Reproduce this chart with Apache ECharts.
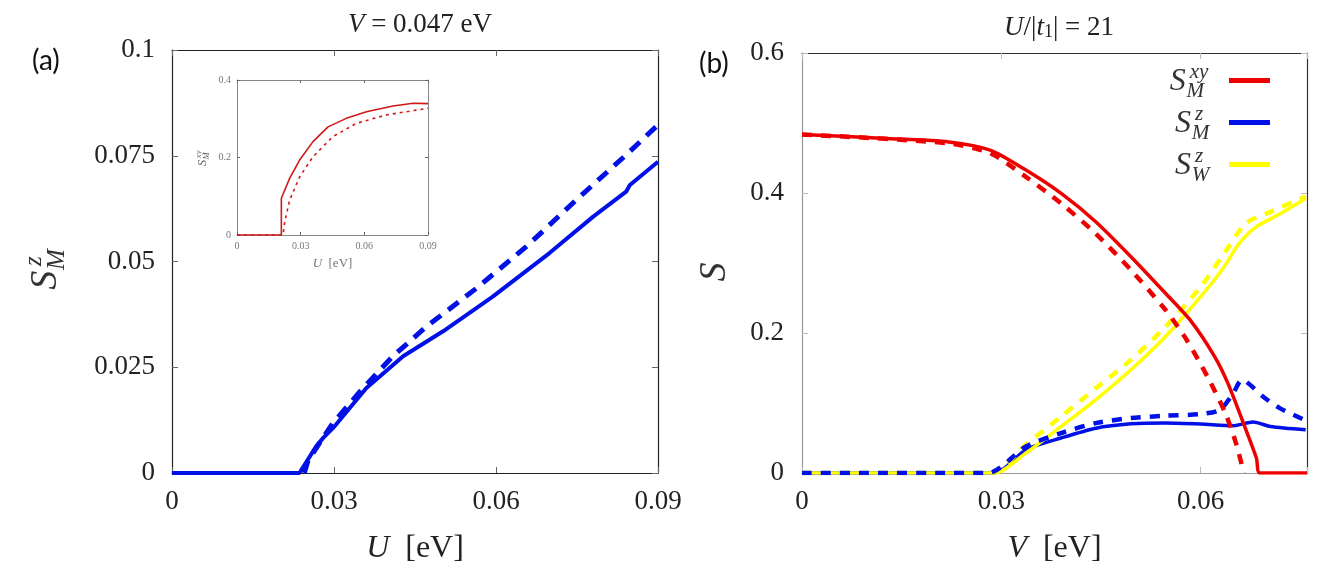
<!DOCTYPE html>
<html>
<head>
<meta charset="utf-8">
<script src="https://cdn.jsdelivr.net/npm/echarts@6/dist/echarts.min.js"></script>
<style>
  html, body { margin: 0; padding: 0; background: #fff; }
  #chart { width: 1337px; height: 576px; }
</style>
</head>
<body>
<div id="chart"></div>
<script>
// panel (a): S_M^z against U, V = 0.047 eV
const uSolidA  = [0, 0.0236, 0.0267, 0.028, 0.0298, 0.036, 0.0428, 0.0502, 0.0594, 0.0699, 0.078, 0.0841, 0.0848, 0.09];
const szSolidA = [0, 0, 0.0063, 0.0083, 0.0106, 0.0201, 0.0276, 0.0335, 0.0417, 0.052, 0.0606, 0.0665, 0.0681, 0.0736];
const uDashA   = [0.0245, 0.0252, 0.0298, 0.0354, 0.0409, 0.0471, 0.0564, 0.0656, 0.0749, 0.0841, 0.09];
const szDashA  = [0, 0.003, 0.0118, 0.0201, 0.0276, 0.0346, 0.0437, 0.0535, 0.0646, 0.0752, 0.0823];

// inset: S_M^xy against U
const uInsetSolid   = [0, 0.0209, 0.0209, 0.0248, 0.0295, 0.0358, 0.0429, 0.0515, 0.061, 0.0735, 0.083, 0.09];
const sxyInsetSolid = [0, 0, 0.095, 0.146, 0.1935, 0.241, 0.279, 0.301, 0.318, 0.333, 0.340, 0.339];
const uInsetDash    = [0, 0.0217, 0.0225, 0.0248, 0.0295, 0.0358, 0.0452, 0.0562, 0.0704, 0.09];
const sxyInsetDash  = [0, 0, 0.034, 0.09, 0.15, 0.202, 0.254, 0.288, 0.31, 0.327];

// panel (b): S against V, U/|t1| = 21
const vRedSolid = [0, 0.0126, 0.0221, 0.0284, 0.0337, 0.039, 0.0442, 0.0495, 0.0547, 0.0584, 0.0621, 0.0641, 0.0664, 0.0684, 0.0689, 0.076];
const sRedSolid = [0.4836, 0.478, 0.473, 0.461, 0.4327, 0.3994, 0.359, 0.309, 0.2568, 0.2187, 0.1663, 0.128, 0.072, 0.021, 0, 0];
const vRedDash  = [0, 0.0221, 0.0284, 0.0337, 0.039, 0.0442, 0.0495, 0.0547, 0.0579, 0.061, 0.0637, 0.0653, 0.0665];
const sRedDash  = [0.4836, 0.471, 0.4565, 0.423, 0.385, 0.342, 0.29, 0.233, 0.19, 0.138, 0.0856, 0.043, 0];
const vBlueSolid = [0, 0.029, 0.0337, 0.039, 0.0442, 0.0495, 0.0547, 0.06, 0.0649, 0.0679, 0.0705, 0.0758];
const sBlueSolid = [0, 0, 0.0333, 0.05, 0.064, 0.0703, 0.0715, 0.070, 0.0675, 0.0728, 0.0665, 0.0618];
const vBlueDash  = [0, 0.028, 0.0337, 0.039, 0.0442, 0.0495, 0.0547, 0.0599, 0.0629, 0.0649, 0.0662, 0.0694, 0.0719, 0.0758];
const sBlueDash  = [0, 0, 0.038, 0.057, 0.0713, 0.0785, 0.0818, 0.0841, 0.0903, 0.114, 0.133, 0.109, 0.0927, 0.075];
const vYelSolid = [0, 0.029, 0.0337, 0.039, 0.0442, 0.0495, 0.0547, 0.06, 0.0632, 0.0658, 0.0684, 0.0721, 0.0758];
const sYelSolid = [0, 0, 0.0285, 0.0665, 0.1046, 0.1474, 0.195, 0.252, 0.29, 0.328, 0.352, 0.371, 0.392];
const vYelDash  = [0, 0.0285, 0.0337, 0.039, 0.0442, 0.0495, 0.0547, 0.06, 0.0642, 0.0668, 0.0705, 0.0758];
const sYelDash  = [0, 0, 0.0404, 0.0808, 0.121, 0.1616, 0.209, 0.266, 0.323, 0.357, 0.373, 0.395];

// tick labels
const ticksUA = [0, 0.03, 0.06, 0.09];
const ticksSA = [0, 0.025, 0.05, 0.075, 0.1];
const ticksVB = [0, 0.03, 0.06];
const ticksSB = [0, 0.2, 0.4, 0.6];
const ticksInsetY = [0, 0.2, 0.4];

const SERIF = '"Liberation Serif", "DejaVu Serif", serif';
const BLUE = '#0010e6', RED = '#ee0000', YEL = '#ffff00', INRED = '#d01818';

const zip = (xs, ys) => xs.map((x, i) => [x, ys[i]]);
const fromTicks = ticks => v => {
  const t = ticks.find(t => Math.abs(t - v) < 1e-9);
  return t === undefined ? '' : String(t);
};

// S with stacked super/subscript, centred on (x, y)
function mathS(x, y, sup, sub, size, rot, color) {
  const bw = size * 0.6;
  const small = size * 0.66;
  const tail = Math.max((sup || '').length, (sub || '').length) * small * 0.5;
  const w = bw + tail;
  const font = { fontFamily: SERIF, fontStyle: 'italic', fill: color };
  const kids = [{ type: 'text', x: -w / 2, y: 0,
    style: Object.assign({ text: 'S', fontSize: size, verticalAlign: 'middle' }, font) }];
  if (sup) kids.push({ type: 'text', x: -w / 2 + bw + size * 0.02, y: -size * 0.3,
    style: Object.assign({ text: sup, fontSize: small, verticalAlign: 'middle' }, font) });
  if (sub) kids.push({ type: 'text', x: -w / 2 + bw - size * 0.08, y: size * 0.3,
    style: Object.assign({ text: sub, fontSize: small, verticalAlign: 'middle' }, font) });
  return { type: 'group', x: x, y: y, rotation: rot || 0, children: kids };
}

function valAxis(grid, pos, min, max, interval, opts) {
  const o = opts || {};
  const isX = pos === 'bottom' || pos === 'top';
  const main = pos === 'bottom' || pos === 'left';
  return {
    type: 'value', gridIndex: grid, position: pos, min: min, max: max, interval: interval,
    axisLine: { show: true, onZero: false, lineStyle: { color: main ? (o.lineMain || '#222') : (o.lineMirror || '#222'), width: o.lineW || 1.2 } },
    axisTick: { show: true, inside: true, length: o.tickLen || 6, lineStyle: { color: o.tickColor || '#666' } },
    splitLine: { show: false },
    axisLabel: main ? {
      show: true, formatter: fromTicks(o.ticks), fontFamily: SERIF, fontSize: o.fs || 27,
      color: o.labelColor || '#222', margin: o.margin || 15, showMaxLabel: true
    } : { show: false },
    name: main && isX ? o.name : '',
    nameLocation: 'middle', nameGap: o.nameGap || 58,
    nameTextStyle: {
      fontFamily: SERIF, fontSize: o.nameFs || 32, color: o.labelColor || '#222',
      rich: { i: { fontFamily: SERIF, fontStyle: 'italic', fontSize: o.nameFs || 32, color: o.labelColor || '#222' } }
    }
  };
}

function line(xi, data, color, width, dash, z, name, smooth) {
  const s = {
    type: 'line', xAxisIndex: xi, yAxisIndex: xi, showSymbol: false, z: z,
    smooth: smooth === undefined ? 0.25 : smooth,
    data: data, lineStyle: { color: color, width: width }, itemStyle: { color: color }
  };
  if (dash) s.lineStyle.type = dash;
  if (name) s.name = name;
  return s;
}

const chart = echarts.init(document.getElementById('chart'), null, { renderer: 'canvas' });

const ga = { left: 172, top: 50, width: 486, height: 423 };
const gb = { left: 802, top: 53, width: 505, height: 420 };
const gi = { left: 237, top: 80, width: 191, height: 155 };

const option = {
  animation: false,
  backgroundColor: '#fff',
  title: [
    { text: '{i|V} = 0.047 eV', left: 415, top: 6, textAlign: 'center',
      textStyle: { fontFamily: SERIF, fontSize: 27, fontWeight: 'normal', color: '#222',
        rich: { i: { fontFamily: SERIF, fontStyle: 'italic', fontSize: 27, color: '#222' } } } },
    { text: '{i|U}/|{i|t}{s|1}| = 21', left: 1054, top: 9, textAlign: 'center',
      textStyle: { fontFamily: SERIF, fontSize: 27, fontWeight: 'normal', color: '#222',
        rich: { i: { fontFamily: SERIF, fontStyle: 'italic', fontSize: 27, color: '#222' },
                s: { fontFamily: SERIF, fontSize: 18, color: '#222', verticalAlign: 'bottom', padding: [8, 0, 0, 0] } } } },
    { text: '(a)', left: 27, top: 42, textStyle: { fontFamily: 'Lato, "Open Sans", sans-serif', fontSize: 28, fontWeight: 'normal', color: '#111' } },
    { text: '(b)', left: 694, top: 45, textStyle: { fontFamily: 'Lato, "Open Sans", sans-serif', fontSize: 28, fontWeight: 'normal', color: '#111' } }
  ],
  legend: {
    orient: 'vertical', left: 1229, top: 78, padding: 0,
    itemWidth: 41, itemHeight: 5, itemGap: 37, icon: 'rect',
    selectedMode: false, formatter: () => '',
    textStyle: { fontSize: 5, lineHeight: 5, padding: 0 },
    data: ['Sxy', 'Sz', 'SzW']
  },
  grid: [
    Object.assign({ show: false }, ga),
    Object.assign({ show: false }, gb),
    Object.assign({ show: true, backgroundColor: '#fff', borderWidth: 0, z: 5 }, gi)
  ],
  xAxis: [
    valAxis(0, 'bottom', 0, 0.09, 0.03, { ticks: ticksUA, name: '{i|U}  [eV]', nameGap: 60 }),
    valAxis(0, 'top', 0, 0.09, 0.03, {}),
    valAxis(1, 'bottom', 0, 0.076, 0.03, { ticks: ticksVB, name: '{i|V}  [eV]', nameGap: 60, lineMain: '#999', lineMirror: '#333', tickColor: '#bbb' }),
    valAxis(1, 'top', 0, 0.076, 0.03, { lineMirror: '#333', tickColor: '#bbb' }),
    Object.assign(valAxis(2, 'bottom', 0, 0.09, 0.03, { ticks: ticksUA, fs: 10, margin: 6, labelColor: '#777', lineMain: '#888', tickLen: 3, lineW: 1,
      name: '{i|U}  [eV]', nameGap: 22, nameFs: 13 }), { z: 6 }),
    Object.assign(valAxis(2, 'top', 0, 0.09, 0.03, { lineMirror: '#888', tickLen: 3, lineW: 1 }), { z: 6 })
  ],
  yAxis: [
    valAxis(0, 'left', 0, 0.1, 0.025, { ticks: ticksSA, margin: 17 }),
    valAxis(0, 'right', 0, 0.1, 0.025, {}),
    valAxis(1, 'left', 0, 0.6, 0.2, { ticks: ticksSB, margin: 18, lineMain: '#999', lineMirror: '#333', tickColor: '#bbb' }),
    valAxis(1, 'right', 0, 0.6, 0.2, { lineMirror: '#333', tickColor: '#bbb' }),
    Object.assign(valAxis(2, 'left', 0, 0.4, 0.2, { ticks: ticksInsetY, fs: 10, margin: 6, labelColor: '#777', lineMain: '#888', tickLen: 3, lineW: 1 }), { z: 6 }),
    Object.assign(valAxis(2, 'right', 0, 0.4, 0.2, { lineMirror: '#888', tickLen: 3, lineW: 1 }), { z: 6 })
  ],
  graphic: [
    mathS(46, 272, 'z', 'M', 38, Math.PI / 2, '#333'),
    mathS(715, 270, '', '', 38, Math.PI / 2, '#333'),
    mathS(203, 158, 'xy', 'M', 13, Math.PI / 2, '#666'),
    mathS(1190, 82, 'xy', 'M', 32, 0, '#333'),
    mathS(1190, 124, 'z', 'M', 32, 0, '#333'),
    mathS(1190, 166, 'z', 'W', 32, 0, '#333')
  ],
  series: [
    line(0, zip(uSolidA, szSolidA), BLUE, 4, null, 3, null, false),
    line(0, zip(uDashA, szDashA), BLUE, 5, [13, 9], 2, null, false),

    line(4, zip(uInsetSolid, sxyInsetSolid), INRED, 1.6, null, 7, null, false),
    line(4, zip(uInsetDash, sxyInsetDash), INRED, 1.6, [3, 4], 7, null, false),

    line(2, zip(vBlueSolid, sBlueSolid), BLUE, 3.5, null, 2, 'Sz'),
    line(2, zip(vYelSolid, sYelSolid), YEL, 3.5, null, 3, 'SzW'),
    line(2, zip(vYelDash, sYelDash), YEL, 4.5, [10, 9], 3),
    line(2, zip(vBlueDash, sBlueDash), BLUE, 4.5, [10, 9], 4),
    line(2, zip(vRedSolid, sRedSolid), RED, 3.5, null, 5, 'Sxy'),
    line(2, zip(vRedDash, sRedDash), RED, 4.5, [10, 9], 5)
  ]
};

chart.setOption(option);
</script>
</body>
</html>
